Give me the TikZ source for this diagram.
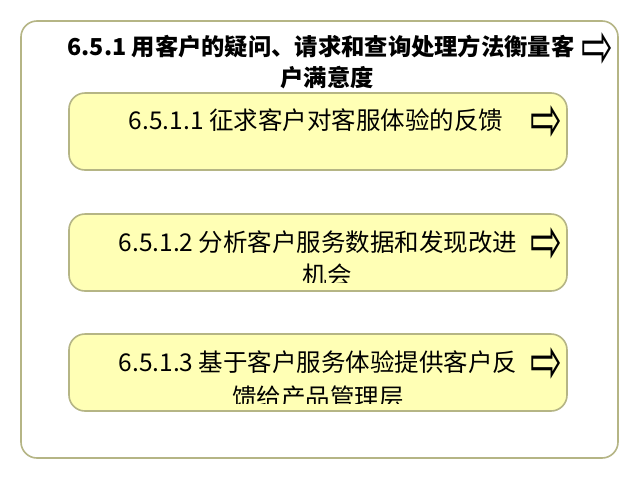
\documentclass[tikz,border=0pt]{standalone}
\usepackage{fontspec}
\setmainfont{Noto Sans CJK SC}
\newfontfamily\arrowfont{DejaVu Sans}
\definecolor{olivebd}{HTML}{B5B585}
\definecolor{boxfill}{HTML}{FFFFB5}
\newcommand{\bigarrow}{\scalebox{0.95}[1.6]{⇨}}
\begin{document}
\begin{tikzpicture}[x=1pt,y=-1pt,
  outerbox/.style={draw=olivebd,line width=1.6pt,rounded corners=16pt,fill=white},
  innerbox/.style={draw=olivebd,line width=1.6pt,rounded corners=16pt,fill=boxfill},
  titletext/.style={font=\fontsize{23.3}{30}\selectfont\bfseries,inner sep=0pt,anchor=center},
  boxtext/.style={font=\fontsize{24.5}{29}\selectfont,inner sep=0pt,anchor=center},
  arrowsym/.style={font=\arrowfont\fontsize{40}{40}\selectfont,inner sep=0pt,anchor=center}]
\useasboundingbox (0,0) rectangle (640,480);
\fill[white] (0,0) rectangle (640,480);
% outer box
\draw[outerbox] (21,21) rectangle (618,458);
\node[titletext] (t1) at (321,47) {6.5.1 用客户的疑问、请求和查询处理方法衡量客};
\node[titletext] (t2) at (327,78) {户满意度};
\node[arrowsym] (ta) at (597,51) {\bigarrow};
% box 1
\draw[innerbox] (69,93) rectangle (567,170);
\node[boxtext] (b1) at (316,120) {6.5.1.1 征求客户对客服体验的反馈};
\node[arrowsym] (a1) at (546,124) {\bigarrow};
% box 2
\draw[innerbox] (69,214) rectangle (567,291);
\node[boxtext] (b2a) at (318,242) {6.5.1.2 分析客户服务数据和发现改进};
\begin{scope}
\clip (69,214) rectangle (567,282);
\node[boxtext] (b2b) at (327,275) {机会};
\end{scope}
\node[arrowsym] (a2) at (546,246) {\bigarrow};
% box 3
\draw[innerbox] (69,334) rectangle (567,411);
\node[boxtext] (b3a) at (318,362) {6.5.1.3 基于客户服务体验提供客户反};
\begin{scope}
\clip (69,334) rectangle (567,403);
\node[boxtext] (b3b) at (318,397) {馈给产品管理层};
\end{scope}
\node[arrowsym] (a3) at (546,366) {\bigarrow};
\end{tikzpicture}
\end{document}
